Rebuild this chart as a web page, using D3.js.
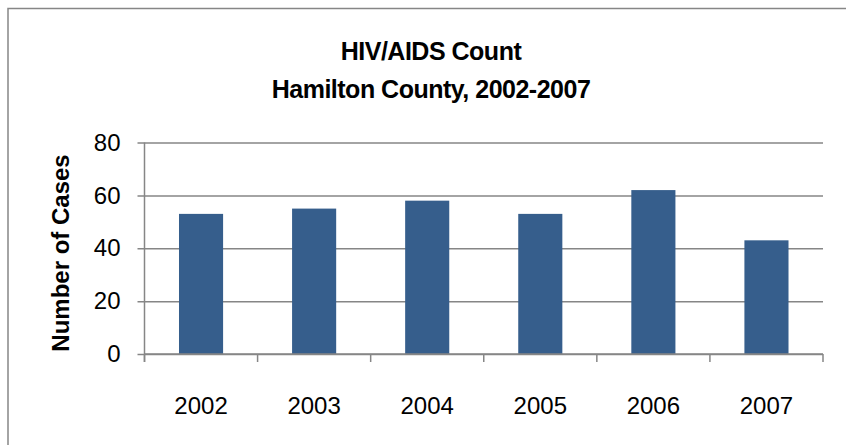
<!DOCTYPE html>
<html>
<head>
<meta charset="utf-8">
<script src="https://cdn.jsdelivr.net/npm/d3@7"></script>
<style>
  body { margin: 0; background: #fff; }
  svg { display: block; font-family: "Liberation Sans", Arial, sans-serif; }
</style>
</head>
<body>
<div id="chart"></div>
<script>
// --- Data ---
const years = ['2002', '2003', '2004', '2005', '2006', '2007'];
const cases = [53, 55, 58, 53, 62, 43];
const yTicks = [0, 20, 40, 60, 80];
const titleLines = ['HIV/AIDS Count', 'Hamilton County, 2002-2007'];
const yLabel = 'Number of Cases';

const width = 846, height = 445;
const margin = {left: 144.5, right: 23, top: 142.5, bottom: 91};
const gridColor = '#868686';
const barColor = '#365e8c';

const svg = d3.select('#chart')
  .append('svg')
  .attr('width', width)
  .attr('height', height);

// chart frame (only top/left edges fall inside the picture)
svg.append('rect')
  .attr('x', 8).attr('y', 8.5)
  .attr('width', width + 20).attr('height', height + 20)
  .attr('fill', '#fff')
  .attr('stroke', gridColor)
  .attr('stroke-width', 1.5);

// Scales
const x = d3.scaleBand()
  .domain(years)
  .range([margin.left, width - margin.right])
  .paddingInner(0.61)
  .paddingOuter(0.305);
const y = d3.scaleLinear()
  .domain([0, 80])
  .range([height - margin.bottom, margin.top]);

// Gridlines + y axis
const yAxis = d3.axisLeft(y)
  .tickValues(yTicks)
  .tickSize(-(width - margin.right - margin.left))
  .tickPadding(24);
const gy = svg.append('g')
  .attr('transform', `translate(${margin.left},0)`)
  .call(yAxis);
gy.select('.domain').remove();
gy.selectAll('.tick line')
  .attr('x1', -7)
  .attr('stroke', gridColor)
  .attr('stroke-width', 1.5);
gy.selectAll('.tick text')
  .attr('font-size', 24)
  .attr('fill', '#000')
  .attr('font-family', '"Liberation Sans", Arial, sans-serif');

// Bars
svg.append('g')
  .selectAll('rect')
  .data(years)
  .enter()
  .append('rect')
  .attr('x', d => x(d))
  .attr('y', (d, i) => y(cases[i]))
  .attr('width', x.bandwidth())
  .attr('height', (d, i) => y(0) - y(cases[i]))
  .attr('fill', barColor);

// y axis line
svg.append('line')
  .attr('x1', margin.left).attr('x2', margin.left)
  .attr('y1', margin.top).attr('y2', y(0) + 8)
  .attr('stroke', gridColor)
  .attr('stroke-width', 1.5);

// x axis: category boundary ticks
const step = x.step();
const xEdge = d3.range(years.length + 1).map(i => margin.left + i * step);
const gx = svg.append('g');
gx.append('line')
  .attr('x1', margin.left).attr('x2', width - margin.right)
  .attr('y1', y(0)).attr('y2', y(0))
  .attr('stroke', gridColor)
  .attr('stroke-width', 1.5);
gx.selectAll('.xt')
  .data(xEdge)
  .enter()
  .append('line')
  .attr('x1', d => d).attr('x2', d => d)
  .attr('y1', y(0)).attr('y2', y(0) + 8)
  .attr('stroke', gridColor)
  .attr('stroke-width', 1.5);
gx.selectAll('text')
  .data(years)
  .enter()
  .append('text')
  .attr('x', d => x(d) + x.bandwidth() / 2)
  .attr('y', 414)
  .attr('text-anchor', 'middle')
  .attr('font-size', 24)
  .attr('fill', '#000')
  .text(d => d);

// Title
svg.append('g')
  .selectAll('text')
  .data(titleLines)
  .enter()
  .append('text')
  .attr('x', 431)
  .attr('y', (d, i) => 60 + i * 38)
  .attr('text-anchor', 'middle')
  .attr('font-size', 25)
  .attr('font-weight', 'bold')
  .attr('letter-spacing', -0.5)
  .attr('fill', '#000')
  .text(d => d);

// Y axis title
svg.append('text')
  .attr('transform', `translate(69,${253}) rotate(-90)`)
  .attr('text-anchor', 'middle')
  .attr('font-size', 24)
  .attr('font-weight', 'bold')
  .attr('fill', '#000')
  .text(yLabel);
</script>
</body>
</html>
